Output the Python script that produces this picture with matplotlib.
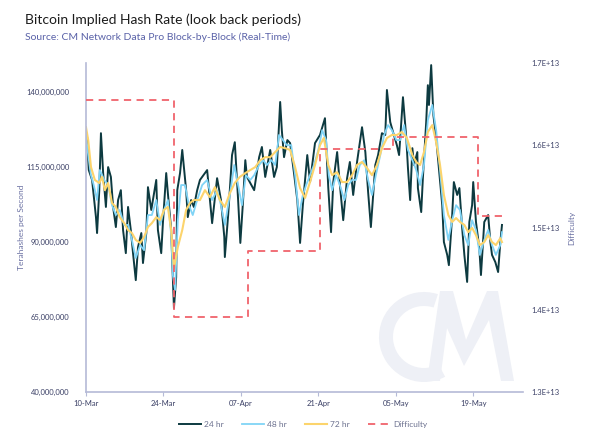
import matplotlib.pyplot as plt
import matplotlib.dates as mdates
from matplotlib.patches import Wedge, Polygon
import pandas as pd

plt.rcParams['font.family'] = ['Lato', 'DejaVu Sans']

START = pd.Timestamp('2020-03-10')

# 24 hr look back: days after 10-Mar, hash rate (millions of TH/s)
day_24 = [0.0, 0.2, 0.5, 1.1, 1.8, 2.0, 2.4, 2.7, 3.1, 3.6, 4.0, 4.5, 4.9, 5.4, 5.8,
          6.3, 6.7, 7.2, 7.6, 8.1, 8.5, 9.0, 9.4, 10.0, 10.3, 10.9, 11.2, 11.8, 12.1,
          12.7, 13.0, 13.6, 13.9, 14.5, 14.8, 15.4, 15.6, 15.9, 16.3, 16.5, 17.0, 17.4,
          17.7, 18.1, 18.4, 19.0, 19.5, 20.1, 20.6, 21.5, 21.9, 22.8, 23.7, 24.4, 25.0,
          25.1, 25.7, 26.0, 26.4, 26.9, 27.5, 27.9, 28.4, 28.8, 29.1, 29.7, 30.4, 31.3,
          31.8, 32.4, 33.3, 34.0, 34.5, 35.1, 35.4, 35.8, 36.4, 36.9, 37.6, 38.2, 38.7,
          39.2, 40.0, 40.5, 41.4, 42.3, 43.2, 43.8, 44.3, 44.7, 45.4, 45.9, 46.5, 47.2,
          47.7, 48.3, 49.0, 49.9, 50.5, 51.0, 51.5, 52.3, 52.8, 53.5, 54.1, 54.4, 55.0,
          55.5, 56.2, 56.6, 57.3, 57.9, 58.2, 58.6, 59.0, 59.3, 59.9, 60.0, 60.6, 60.9,
          61.5, 61.8, 62.0, 62.4, 62.8, 63.3, 63.7, 64.4, 64.7, 65.3, 65.6, 66.2, 66.5,
          67.1, 67.5, 68.0, 68.4, 68.9, 69.3, 69.8, 70.0, 70.5, 71.1, 71.4, 72.0, 72.7,
          73.1, 73.4, 74.0, 74.5, 74.9, 75.2]
hash_24 = [124.0, 125.0, 114.0, 110.7, 98.3, 93.0, 107.3, 126.3, 113.0, 101.7, 115.0,
           111.7, 101.7, 95.0, 104.0, 107.3, 94.0, 86.3, 101.7, 94.0, 86.3, 77.3, 88.3,
           93.0, 83.0, 93.0, 108.3, 100.7, 104.0, 110.7, 94.0, 86.3, 96.3, 113.0, 106.3,
           94.0, 83.0, 68.0, 78.3, 107.3, 113.0, 120.7, 115.0, 107.3, 98.3, 104.0, 101.7,
           107.3, 110.7, 113.0, 114.0, 96.3, 111.3, 104.0, 91.7, 85.0, 99.0, 107.3, 119.0,
           123.3, 104.0, 89.7, 104.0, 117.3, 111.7, 109.7, 107.3, 118.3, 121.7, 111.7,
           120.7, 111.7, 115.0, 136.7, 127.3, 118.3, 124.0, 123.0, 113.0, 104.0, 89.7,
           102.3, 119.0, 110.0, 123.0, 125.7, 131.3, 108.0, 93.3, 110.0, 120.0, 109.0,
           97.3, 111.3, 116.7, 105.7, 116.7, 128.3, 120.0, 106.7, 95.0, 115.7, 119.0,
           126.3, 125.7, 140.7, 130.0, 126.7, 122.3, 119.0, 138.3, 124.7, 114.7, 104.0,
           121.3, 115.7, 120.0, 108.0, 100.0, 111.3, 130.0, 142.3, 135.7, 149.0, 132.3,
           124.7, 116.7, 102.3, 90.0, 85.7, 82.3, 99.0, 110.0, 105.7, 108.0, 94.7, 85.7,
           76.7, 96.7, 102.3, 110.0, 96.7, 88.0, 79.0, 96.7, 99.0, 90.0, 85.7, 83.3, 80.0,
           90.0, 95.7]

# 48 hr look back
day_48 = [0.0, 0.4, 0.9, 1.4, 2.0, 2.5, 3.3, 4.0, 4.7, 5.4, 6.1, 6.9, 7.6, 8.3, 9.0, 9.8,
          10.5, 11.2, 11.9, 12.7, 13.4, 14.1, 14.8, 15.4, 15.7, 16.1, 16.6, 17.2, 17.9,
          18.6, 19.3, 20.1, 21.0, 21.9, 22.8, 23.7, 24.4, 25.1, 26.0, 26.8, 27.5, 28.2,
          28.9, 29.7, 30.4, 31.3, 32.0, 32.7, 33.5, 34.2, 34.9, 35.6, 36.3, 37.1, 37.8,
          38.5, 39.2, 39.8, 40.5, 41.2, 42.0, 42.7, 43.4, 43.9, 44.5, 45.2, 45.9, 46.7,
          47.4, 48.1, 48.8, 49.5, 50.3, 51.0, 51.7, 52.4, 53.2, 53.9, 54.6, 55.3, 56.1,
          56.8, 57.5, 58.2, 59.0, 59.7, 60.4, 61.1, 61.8, 62.6, 63.3, 64.0, 64.7, 65.5,
          66.2, 66.9, 67.6, 68.4, 69.1, 69.8, 70.5, 71.2, 72.0, 72.7, 73.4, 74.1, 74.9,
          75.2]
hash_48 = [125.7, 119.0, 112.3, 109.0, 104.0, 114.0, 110.7, 109.0, 102.3, 99.0, 100.7,
           95.7, 95.7, 90.7, 84.7, 89.0, 87.3, 99.0, 99.0, 104.0, 95.7, 100.7, 104.0,
           92.3, 79.0, 74.0, 97.3, 109.0, 109.0, 102.3, 99.0, 104.0, 109.0, 110.7, 104.0,
           107.3, 102.3, 95.7, 105.7, 115.7, 109.0, 102.3, 112.3, 110.7, 112.3, 115.7,
           117.3, 115.7, 117.3, 115.7, 125.7, 124.0, 122.3, 122.3, 112.3, 99.0, 105.7,
           109.0, 112.3, 115.7, 120.7, 127.3, 124.0, 112.3, 107.3, 112.3, 109.0, 104.0,
           109.0, 110.7, 110.7, 115.7, 117.3, 110.7, 105.7, 112.3, 119.0, 125.7, 129.0,
           127.3, 124.0, 124.0, 129.0, 120.7, 117.3, 114.0, 109.0, 115.7, 130.7, 135.7,
           127.3, 114.0, 99.0, 90.7, 97.3, 102.3, 100.7, 92.3, 89.0, 97.3, 94.0, 85.7,
           90.7, 94.0, 89.0, 85.7, 89.0, 93.3]

# 72 hr look back
day_72 = [0.0, 0.4, 0.9, 1.6, 2.4, 2.9, 3.4, 4.0, 4.7, 5.4, 6.1, 6.9, 7.6, 8.3, 9.0, 9.8,
          10.5, 11.2, 11.9, 12.7, 13.4, 14.1, 14.8, 15.4, 15.9, 16.6, 17.4, 18.1, 18.8,
          19.5, 20.6, 21.5, 22.4, 23.3, 24.2, 25.1, 26.0, 26.9, 27.8, 28.8, 29.7, 30.6,
          31.5, 32.4, 33.3, 34.2, 35.1, 36.0, 36.9, 37.8, 38.7, 39.6, 40.5, 41.4, 42.3,
          43.0, 43.8, 44.5, 45.4, 46.3, 47.2, 48.1, 49.0, 49.9, 50.8, 51.7, 52.6, 53.5,
          54.4, 55.3, 56.2, 57.1, 58.0, 59.0, 59.7, 60.4, 61.1, 61.8, 62.6, 63.3, 64.0,
          64.7, 65.5, 66.2, 66.9, 67.6, 68.4, 69.1, 69.8, 70.5, 71.2, 72.0, 72.7, 73.4,
          74.1, 74.9, 75.2]
hash_72 = [128.3, 124.0, 115.0, 110.7, 109.7, 111.7, 107.3, 109.7, 103.0, 101.7, 98.3,
           96.3, 94.0, 93.0, 90.7, 89.7, 91.7, 95.0, 96.3, 98.3, 97.3, 100.7, 101.7, 94.0,
           81.3, 88.3, 94.0, 100.7, 103.0, 104.0, 104.0, 107.3, 105.0, 108.3, 104.0,
           101.7, 106.3, 109.7, 111.7, 113.0, 114.0, 115.0, 117.3, 118.3, 118.3, 120.0,
           121.7, 121.3, 120.7, 115.0, 108.0, 104.7, 110.0, 115.7, 122.3, 124.7, 115.7,
           112.3, 113.3, 110.0, 110.0, 112.3, 115.7, 116.7, 114.7, 112.3, 115.7, 121.3,
           124.7, 125.7, 125.7, 126.7, 124.7, 119.0, 116.7, 115.7, 120.0, 126.7, 129.0,
           123.3, 115.7, 105.7, 99.0, 96.7, 98.0, 96.7, 95.7, 93.3, 94.7, 92.3, 89.0,
           90.0, 92.3, 90.0, 89.0, 91.3, 90.0]

# difficulty adjustments: days after 10-Mar, difficulty (x 1E13)
diff_days = [0.0, 15.97, 29.2, 42.3, 55.5, 70.9, 75.2]
diff_vals = [1.655, 1.391, 1.471, 1.596, 1.610, 1.514, 1.514]

tick_days = [0, 14, 28, 42, 56, 70]
left_ticks = [40e6, 65e6, 90e6, 115e6, 140e6]
right_ticks = [1.3e13, 1.4e13, 1.5e13, 1.6e13, 1.7e13]


def to_dates(days):
    return START + pd.to_timedelta(days, unit='D')


W, H = 602, 436
fig = plt.figure(figsize=(W / 100, H / 100), dpi=100)
fig.patch.set_facecolor('white')

# watermark, drawn in image pixel units behind the chart
wm = fig.add_axes([372 / W, 1 - 386 / H, 148 / W, 100 / H], zorder=-1)
wm.set_xlim(372, 520)
wm.set_ylim(386, 286)
wm.axis('off')
wm_col = '#eef0f6'
wm.add_patch(Wedge((424, 337), 45, 62, 288, width=14, color=wm_col, lw=0))
wm.add_patch(Polygon([(427, 381), (440, 291), (453, 291), (466, 340), (487, 291),
                      (498, 291), (514, 381), (501, 381), (489, 320), (464, 366),
                      (447, 328), (440, 381)], closed=True, color=wm_col, lw=0))

ax = fig.add_axes([86 / W, 1 - 392 / H, 437 / W, 329 / H])
ax.patch.set_visible(False)

ax.plot(to_dates(day_24), [v * 1e6 for v in hash_24], color='#0d3a40', lw=1.4, label='24 hr')
ax.plot(to_dates(day_48), [v * 1e6 for v in hash_48], color='#80d4f6', lw=1.3, label='48 hr')
ax.plot(to_dates(day_72), [v * 1e6 for v in hash_72], color='#fcd46c', lw=1.5, label='72 hr')

ax2 = ax.twinx()
ax2.plot(to_dates(diff_days), [v * 1e13 for v in diff_vals], color='#f0636c', lw=1.3,
         ls=(0, (4, 3)), drawstyle='steps-post', label='Difficulty')

ax.set_xlim(START, to_dates([79.0])[0])
ax.set_ylim(40e6, 149.7e6)
ax2.set_ylim(1.3e13, 1.7e13)

tick_col = '#3b4066'
spine_col = '#b5bad7'
ax.set_xticks(to_dates(tick_days))
ax.xaxis.set_major_formatter(mdates.DateFormatter('%d-%b'))
ax.set_yticks(left_ticks)
ax.set_yticklabels([f'{v:,.0f}' for v in left_ticks])
ax2.set_yticks(right_ticks)
ax2.set_yticklabels([f'{v:.1E}' for v in right_ticks])

ax.tick_params(axis='x', length=3, width=0.8, color=spine_col, labelsize=5.5,
               labelcolor=tick_col, pad=3)
ax.tick_params(axis='y', length=0, labelsize=5.5, labelcolor=tick_col, pad=12)
ax2.tick_params(axis='y', length=0, labelsize=5.5, labelcolor=tick_col, pad=6)

for s in ['top', 'right']:
    ax.spines[s].set_visible(False)
for s in ['top', 'right', 'left', 'bottom']:
    ax2.spines[s].set_visible(False)
ax.spines['left'].set_color(spine_col)
ax.spines['bottom'].set_color(spine_col)
ax.spines['left'].set_linewidth(1.2)
ax.spines['bottom'].set_linewidth(1.2)

ax.set_ylabel('Terahashes per Second', fontsize=6, color='#6a70a2')
ax.yaxis.set_label_coords(-0.14, 0.5)
ax2.set_ylabel('Difficulty', fontsize=6, color='#6a70a2')
ax2.yaxis.set_label_coords(1.103, 0.5)

fig.text(25 / W, 1 - 20 / H, 'Bitcoin Implied Hash Rate (look back periods)',
         fontsize=10, color='#1c1c1c', va='center', ha='left')
fig.text(25 / W, 1 - 37 / H, 'Source: CM Network Data Pro Block-by-Block (Real-Time)',
         fontsize=7.5, color='#5a62a8', va='center', ha='left')

h1, l1 = ax.get_legend_handles_labels()
h2, l2 = ax2.get_legend_handles_labels()
fig.legend(h1 + h2, l1 + l2, loc='center', bbox_to_anchor=(303 / W, 1 - 424 / H),
           ncol=4, frameon=False, fontsize=6, labelcolor='#6d7290',
           handlelength=2.7, handletextpad=0.3, columnspacing=2.2)

fig.savefig('out.png', dpi=100, facecolor='white')
